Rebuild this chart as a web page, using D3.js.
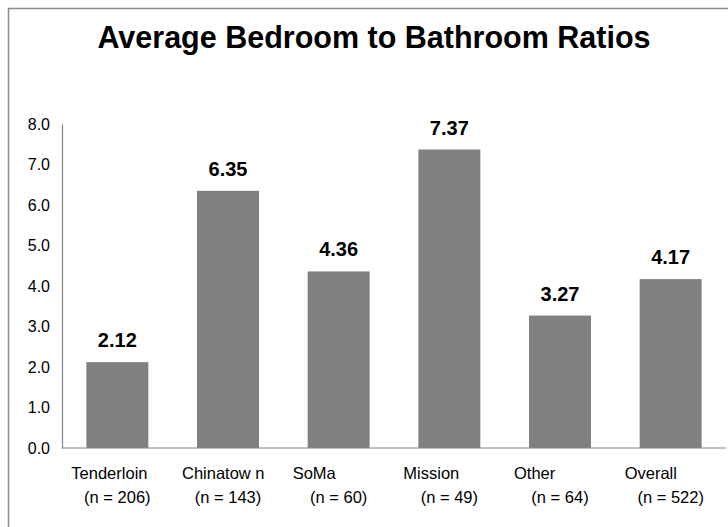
<!DOCTYPE html>
<meta charset="utf-8">
<style>
html, body { margin: 0; padding: 0; background: #fff; }
svg { display: block; font-family: 'Liberation Sans', Arial, sans-serif; }
</style>
<body>
<script src="https://cdn.jsdelivr.net/npm/d3@7"></script>
<script>
// data
var areas = ["Tenderloin", "Chinatow n", "SoMa", "Mission", "Other", "Overall"];
var counts = ["(n = 206)", "(n = 143)", "(n = 60)", "(n = 49)", "(n = 64)", "(n = 522)"];
var ratios = [2.12, 6.35, 4.36, 7.37, 3.27, 4.17];
var yTicks = [0, 1, 2, 3, 4, 5, 6, 7, 8];

var W = 728, H = 527;
var plotLeft = 62, plotRight = 726, plotTop = 124, plotBottom = 448;

var svg = d3.select("body").append("svg")
  .attr("width", W)
  .attr("height", H);

svg.append("rect")
  .attr("width", W).attr("height", H)
  .attr("fill", "#fff");

// chart frame (only left/top edges show, the rest is cropped)
svg.append("rect")
  .attr("x", 8.5).attr("y", 8.5)
  .attr("width", 760).attr("height", 560)
  .attr("fill", "none")
  .attr("stroke", "#8c8c8c")
  .attr("stroke-width", 1.5);

svg.append("text")
  .attr("x", 374)
  .attr("y", 48)
  .attr("text-anchor", "middle")
  .attr("font-size", "30.5px")
  .attr("font-weight", "bold")
  .attr("fill", "#000")
  .text("Average Bedroom to Bathroom Ratios");

var x = d3.scaleBand()
  .domain(areas)
  .range([plotLeft, plotRight])
  .paddingInner(0.44)
  .paddingOuter(0.22);

var y = d3.scaleLinear()
  .domain([0, 8])
  .range([plotBottom, plotTop]);

// y axis
var yAxis = svg.append("g")
  .attr("transform", "translate(" + plotLeft + ",0)")
  .call(d3.axisLeft(y).tickValues(yTicks).tickFormat(d3.format(".1f")).tickSize(0).tickPadding(12));
yAxis.select(".domain").attr("stroke", "#868686").attr("stroke-width", 1.2);
yAxis.selectAll("text")
  .attr("font-size", "16px")
  .attr("font-family", "'Liberation Sans', Arial, sans-serif")
  .attr("fill", "#000");

// bars
svg.selectAll("rect.bar")
  .data(ratios)
  .enter().append("rect")
  .attr("class", "bar")
  .attr("x", function(d, i) { return x(areas[i]); })
  .attr("y", function(d) { return y(d); })
  .attr("width", x.bandwidth())
  .attr("height", function(d) { return plotBottom - y(d); })
  .attr("fill", "#808080");

// x axis line
svg.append("line")
  .attr("x1", plotLeft).attr("x2", plotRight)
  .attr("y1", plotBottom).attr("y2", plotBottom)
  .attr("stroke", "#868686")
  .attr("stroke-width", 1.2);

// value labels
svg.selectAll("text.val")
  .data(ratios)
  .enter().append("text")
  .attr("class", "val")
  .attr("x", function(d, i) { return x(areas[i]) + x.bandwidth() / 2; })
  .attr("y", function(d) { return y(d) - 15; })
  .attr("text-anchor", "middle")
  .attr("font-size", "20px")
  .attr("font-weight", "bold")
  .text(function(d) { return d.toFixed(2); });

// category labels, two lines
var cat = svg.selectAll("g.cat")
  .data(areas)
  .enter().append("g")
  .attr("class", "cat")
  .attr("transform", function(d) { return "translate(" + (x(d) + x.bandwidth() / 2) + ",0)"; });
cat.append("text")
  .attr("x", -46)
  .attr("y", 479)
  .attr("font-size", "16.5px")
  .text(function(d) { return d; });
cat.append("text")
  .attr("x", 0)
  .attr("y", 503)
  .attr("text-anchor", "middle")
  .attr("font-size", "16.5px")
  .text(function(d, i) { return counts[i]; });
</script>
</body>
